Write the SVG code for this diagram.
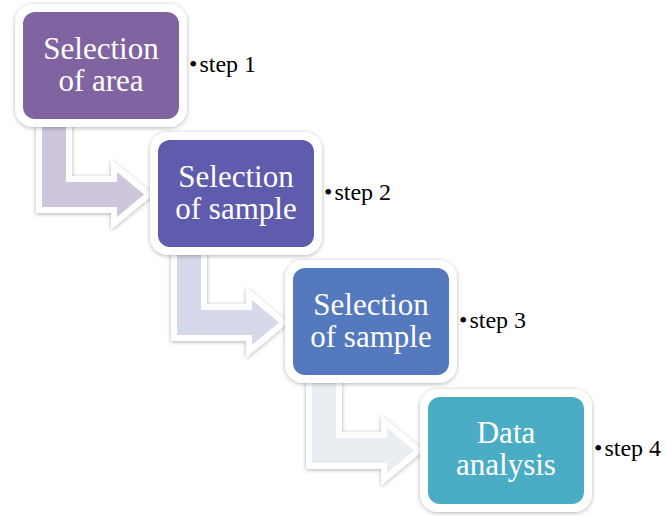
<svg xmlns="http://www.w3.org/2000/svg" width="667" height="516" viewBox="0 0 667 516">
<defs>
<filter id="sh" x="-20%" y="-20%" width="140%" height="140%">
<feDropShadow dx="0" dy="1" stdDeviation="2" flood-color="#000" flood-opacity="0.3"/>
</filter>
<path id="arr" d="M19,100 L43,100 L43,170 L94,170 L94,160 L121,182.5 L94,205 L94,195 L19,195 Z"/>
</defs>
<style>
.outline{fill:#fff;stroke:#fff;stroke-width:12;stroke-linejoin:miter;filter:url(#sh)}
.frame{fill:#fff;filter:url(#sh)}
.lbl{font-family:"Liberation Serif","Times New Roman",serif;font-size:31px;fill:#fff;text-anchor:middle}
.step{font-family:"Liberation Serif","Times New Roman",serif;font-size:24px;fill:#000}
</style>
<rect width="667" height="516" fill="#fff"/>
<g id="connectors">
<g transform="translate(23,12)"><use href="#arr" class="outline"/><use href="#arr" fill="#CEC6DB"/></g>
<g transform="translate(158,140)"><use href="#arr" class="outline"/><use href="#arr" fill="#D5D9E9"/></g>
<g transform="translate(293,268)"><use href="#arr" class="outline"/><use href="#arr" fill="#E8EEF2"/></g>
</g>
<g id="node1">
<rect class="frame" x="15" y="4" width="172" height="123" rx="18"/>
<rect x="23" y="12" width="156" height="107" rx="12" fill="#8064A2"/>
<text class="lbl" x="101" y="59">Selection</text>
<text class="lbl" x="101" y="91">of area</text>
<text class="step" x="189" y="72">•<tspan dx="2">step 1</tspan></text>
</g>
<g id="node2">
<rect class="frame" x="150" y="132" width="172" height="123" rx="18"/>
<rect x="158" y="140" width="156" height="107" rx="12" fill="#5F5BAD"/>
<text class="lbl" x="236" y="187">Selection</text>
<text class="lbl" x="236" y="219">of sample</text>
<text class="step" x="324" y="200">•<tspan dx="2">step 2</tspan></text>
</g>
<g id="node3">
<rect class="frame" x="285" y="260" width="172" height="123" rx="18"/>
<rect x="293" y="268" width="156" height="107" rx="12" fill="#5479BD"/>
<text class="lbl" x="371" y="315">Selection</text>
<text class="lbl" x="371" y="347">of sample</text>
<text class="step" x="459" y="328">•<tspan dx="2">step 3</tspan></text>
</g>
<g id="node4">
<rect class="frame" x="420" y="389" width="172" height="123" rx="18"/>
<rect x="428" y="397" width="156" height="107" rx="12" fill="#4BACC6"/>
<text class="lbl" x="506" y="443">Data</text>
<text class="lbl" x="506" y="475">analysis</text>
<text class="step" x="594" y="456">•<tspan dx="2">step 4</tspan></text>
</g>
</svg>
